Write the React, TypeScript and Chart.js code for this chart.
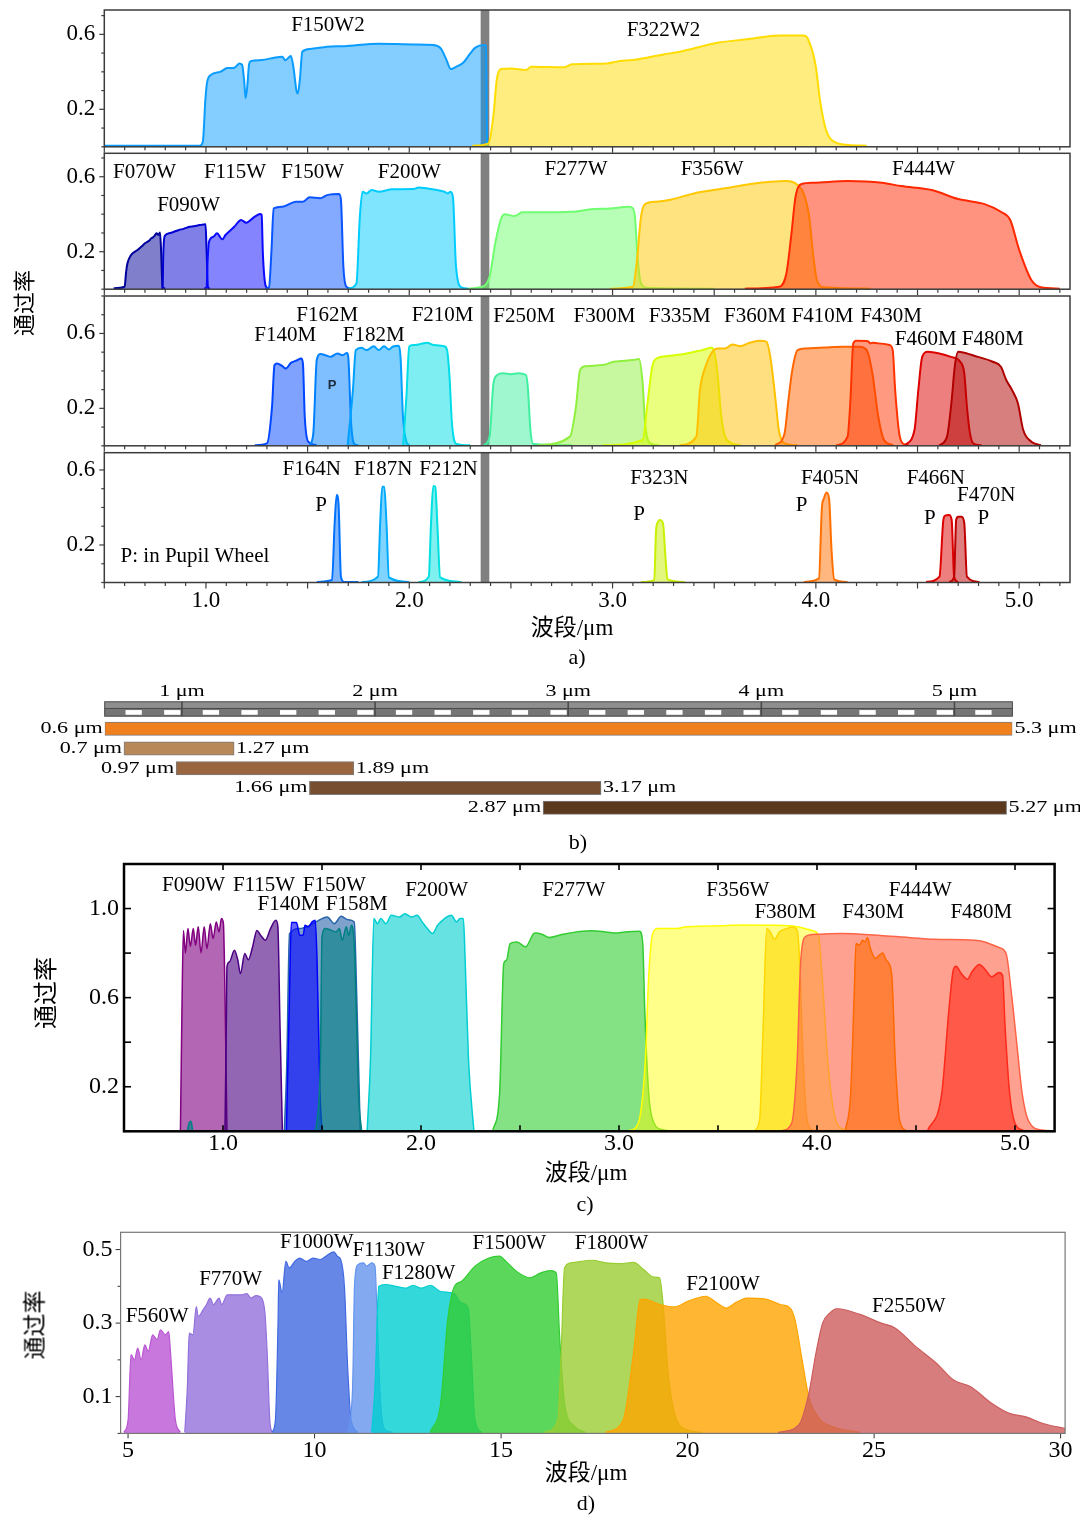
import { useEffect, useRef } from 'react';
import { Chart, registerables } from 'chart.js';

Chart.register(...registerables);

type P = [number, number];

/* ================= a) NIRCam transmission curves ================= */
/* subplot 1 : extra-wide */
const F150W2: P[] = [[0.5,0.005],[0.97,0.006],[0.985,0.03],[0.997,0.25],[1.005,0.34],[1.024,0.383],[1.07,0.4],[1.105,0.42],[1.14,0.422],[1.164,0.445],[1.178,0.437],[1.188,0.35],[1.195,0.26],[1.203,0.32],[1.212,0.44],[1.22,0.457],[1.274,0.463],[1.342,0.477],[1.376,0.48],[1.39,0.462],[1.418,0.484],[1.43,0.427],[1.445,0.3],[1.452,0.285],[1.462,0.36],[1.474,0.507],[1.511,0.522],[1.596,0.534],[1.68,0.537],[1.85,0.55],[2.02,0.546],[2.12,0.543],[2.155,0.525],[2.18,0.472],[2.205,0.415],[2.23,0.427],[2.265,0.448],[2.3,0.498],[2.325,0.529],[2.367,0.543],[2.378,0.54],[2.383,0.02],[2.388,0.005]];
const F322W2: P[] = [[2.31,0.005],[2.39,0.018],[2.415,0.178],[2.43,0.356],[2.45,0.415],[2.5,0.418],[2.574,0.41],[2.6,0.427],[2.76,0.424],[2.8,0.44],[2.97,0.445],[3.03,0.457],[3.1,0.463],[3.25,0.493],[3.33,0.507],[3.516,0.555],[3.67,0.575],[3.82,0.594],[3.94,0.594],[3.96,0.578],[4.0,0.427],[4.02,0.25],[4.05,0.09],[4.1,0.022],[4.16,0.01],[4.25,0.006]];
/* subplot 2 : wide */
const F070W: P[] = [[0.546,0.005],[0.6,0.013],[0.607,0.09],[0.614,0.138],[0.63,0.18],[0.665,0.21],[0.69,0.235],[0.7,0.245],[0.72,0.258],[0.73,0.27],[0.745,0.282],[0.757,0.298],[0.766,0.289],[0.774,0.303],[0.78,0.19],[0.786,0.014],[0.8,0.003]];
const F090W: P[] = [[0.781,0.003],[0.787,0.014],[0.79,0.18],[0.796,0.28],[0.817,0.298],[0.84,0.305],[0.867,0.316],[0.89,0.322],[0.918,0.333],[0.94,0.336],[0.969,0.342],[0.998,0.346],[1.003,0.21],[1.01,0.01],[1.02,0.003]];
const F115W: P[] = [[0.99,0.003],[1.003,0.01],[1.008,0.15],[1.015,0.253],[1.037,0.28],[1.054,0.298],[1.08,0.266],[1.096,0.289],[1.139,0.333],[1.173,0.369],[1.198,0.355],[1.24,0.387],[1.266,0.401],[1.274,0.396],[1.28,0.19],[1.294,0.017],[1.31,0.003]];
const F150W: P[] = [[1.29,0.003],[1.31,0.01],[1.322,0.2],[1.333,0.431],[1.376,0.44],[1.443,0.467],[1.477,0.467],[1.51,0.49],[1.562,0.485],[1.596,0.502],[1.655,0.508],[1.664,0.476],[1.676,0.12],[1.69,0.014],[1.715,0.003]];
const F200W: P[] = [[1.7,0.003],[1.74,0.03],[1.757,0.387],[1.77,0.52],[1.79,0.511],[1.815,0.529],[1.85,0.52],[1.917,0.533],[2.02,0.534],[2.045,0.542],[2.122,0.532],[2.173,0.52],[2.19,0.511],[2.203,0.52],[2.215,0.49],[2.23,0.12],[2.257,0.01],[2.29,0.003]];
const F277W: P[] = [[2.29,0.003],[2.348,0.01],[2.395,0.066],[2.423,0.245],[2.452,0.378],[2.47,0.4],[2.518,0.39],[2.555,0.41],[2.63,0.41],[2.8,0.413],[2.894,0.426],[2.988,0.431],[3.082,0.44],[3.1,0.431],[3.11,0.387],[3.124,0.156],[3.14,0.03],[3.176,0.006],[3.5,0.003]];
const F356W: P[] = [[2.988,0.003],[3.1,0.013],[3.12,0.156],[3.14,0.387],[3.16,0.454],[3.214,0.467],[3.29,0.479],[3.4,0.511],[3.553,0.538],[3.67,0.56],[3.78,0.573],[3.855,0.577],[3.91,0.556],[3.94,0.511],[3.967,0.387],[3.986,0.19],[4.005,0.049],[4.04,0.01],[4.27,0.003]];
const F444W: P[] = [[3.65,0.003],[3.82,0.013],[3.855,0.084],[3.88,0.298],[3.9,0.493],[3.93,0.561],[3.986,0.568],[4.156,0.577],[4.325,0.568],[4.42,0.55],[4.57,0.529],[4.7,0.481],[4.83,0.454],[4.91,0.413],[4.956,0.369],[5.0,0.21],[5.06,0.049],[5.107,0.01],[5.2,0.003]];
/* subplot 3 : medium */
const F140M: P[] = [[1.24,0.003],[1.3,0.013],[1.325,0.209],[1.337,0.43],[1.35,0.44],[1.376,0.425],[1.393,0.413],[1.418,0.443],[1.443,0.454],[1.469,0.466],[1.477,0.44],[1.486,0.155],[1.503,0.022],[1.545,0.003]];
const F162M: P[] = [[1.51,0.003],[1.528,0.066],[1.545,0.458],[1.562,0.49],[1.587,0.484],[1.613,0.475],[1.647,0.493],[1.672,0.484],[1.694,0.496],[1.7,0.475],[1.714,0.12],[1.73,0.01],[1.75,0.003]];
const F182M: P[] = [[1.697,0.003],[1.723,0.3],[1.737,0.511],[1.765,0.523],[1.79,0.511],[1.825,0.532],[1.85,0.511],[1.876,0.532],[1.9,0.514],[1.918,0.529],[1.948,0.534],[1.957,0.475],[1.969,0.155],[1.986,0.022],[2.0,0.003]];
const F210M: P[] = [[1.97,0.003],[1.986,0.262],[2.0,0.529],[2.02,0.538],[2.053,0.543],[2.088,0.55],[2.12,0.538],[2.172,0.532],[2.186,0.511],[2.198,0.369],[2.21,0.12],[2.232,0.01],[2.3,0.003]];
const F250M: P[] = [[2.367,0.003],[2.395,0.049],[2.414,0.333],[2.433,0.378],[2.461,0.387],[2.5,0.382],[2.536,0.387],[2.574,0.378],[2.583,0.316],[2.596,0.084],[2.61,0.01],[2.8,0.003]];
const F300M: P[] = [[2.63,0.003],[2.79,0.049],[2.82,0.209],[2.84,0.404],[2.866,0.425],[2.95,0.431],[3.007,0.449],[3.1,0.458],[3.13,0.463],[3.148,0.333],[3.16,0.12],[3.186,0.013],[3.23,0.003]];
const F335M: P[] = [[2.95,0.003],[3.148,0.031],[3.17,0.209],[3.195,0.422],[3.218,0.467],[3.27,0.479],[3.365,0.493],[3.44,0.511],[3.487,0.523],[3.5,0.502],[3.516,0.387],[3.535,0.155],[3.563,0.031],[3.63,0.003]];
const F360M: P[] = [[3.33,0.003],[3.412,0.049],[3.43,0.298],[3.46,0.431],[3.497,0.511],[3.516,0.52],[3.553,0.52],[3.59,0.541],[3.63,0.532],[3.666,0.547],[3.723,0.561],[3.757,0.556],[3.776,0.475],[3.8,0.262],[3.818,0.084],[3.855,0.01],[3.91,0.003]];
const F410M: P[] = [[3.8,0.003],[3.846,0.066],[3.865,0.244],[3.884,0.404],[3.91,0.511],[3.948,0.52],[4.043,0.525],[4.137,0.529],[4.212,0.529],[4.25,0.511],[4.278,0.387],[4.307,0.155],[4.335,0.031],[4.38,0.003]];
const F430M: P[] = [[4.1,0.003],[4.156,0.049],[4.17,0.244],[4.184,0.547],[4.2,0.561],[4.25,0.56],[4.26,0.555],[4.268,0.547],[4.278,0.55],[4.307,0.547],[4.363,0.538],[4.378,0.511],[4.39,0.298],[4.41,0.066],[4.43,0.01],[4.457,0.003]];
const F460M: P[] = [[4.438,0.003],[4.485,0.084],[4.504,0.298],[4.523,0.475],[4.55,0.502],[4.607,0.493],[4.664,0.475],[4.71,0.449],[4.73,0.387],[4.743,0.209],[4.758,0.066],[4.777,0.01],[4.815,0.003]];
const F480M: P[] = [[4.607,0.003],[4.645,0.049],[4.668,0.244],[4.683,0.422],[4.7,0.502],[4.73,0.497],[4.797,0.475],[4.87,0.449],[4.91,0.422],[4.937,0.35],[4.965,0.298],[4.994,0.226],[5.02,0.084],[5.06,0.022],[5.107,0.003]];
/* subplot 4 : narrow */
const F164N: P[] = [[1.545,0.003],[1.62,0.013],[1.633,0.316],[1.643,0.467],[1.652,0.422],[1.664,0.031],[1.68,0.003],[1.75,0.003]];
const F187N: P[] = [[1.765,0.003],[1.846,0.031],[1.857,0.316],[1.867,0.511],[1.877,0.511],[1.888,0.316],[1.9,0.027],[2.0,0.003]];
const F212N: P[] = [[2.045,0.003],[2.096,0.031],[2.107,0.316],[2.118,0.515],[2.128,0.511],[2.138,0.316],[2.152,0.027],[2.257,0.003]];
const F323N: P[] = [[3.14,0.003],[3.205,0.013],[3.214,0.28],[3.224,0.324],[3.233,0.333],[3.248,0.316],[3.26,0.138],[3.27,0.017],[3.355,0.003]];
const F405N: P[] = [[3.94,0.003],[4.015,0.022],[4.03,0.404],[4.04,0.449],[4.052,0.48],[4.065,0.449],[4.077,0.173],[4.09,0.017],[4.156,0.003]];
const F466N: P[] = [[4.542,0.003],[4.608,0.031],[4.627,0.333],[4.636,0.356],[4.655,0.36],[4.668,0.333],[4.68,0.031],[4.7,0.003]];
const F470N: P[] = [[4.655,0.003],[4.68,0.031],[4.69,0.333],[4.7,0.351],[4.717,0.351],[4.73,0.316],[4.743,0.031],[4.805,0.003]];
/* dichroic gap (grey band) */
const DICHROIC: P[] = [[2.35,0],[2.35,1],[2.395,1],[2.395,0]];

const aXLabels = [1, 2, 3, 4, 5];
const aYLabels = [0.2, 0.6];

/* ================= b) wavelength coverage bars ================= */
const bCats = ['ruler', 'full', 'r1', 'r2', 'r3', 'r4'];
const bStart: (number | null)[] = [null, 0.6, 0.7, 0.97, 1.66, 2.87];
const bEnd: (number | null)[] = [null, 5.3, 1.27, 1.89, 3.17, 5.27];
const RULER: P = [0.6, 5.3];
const RULER_MARKS = [1, 2, 3, 4, 5];

/* ================= c) NIRCam throughput ================= */
const cF090W: P[] = [[0.785,0.002],[0.792,0.5],[0.8,0.902],[0.81,0.8],[0.823,0.91],[0.835,0.83],[0.85,0.91],[0.861,0.835],[0.875,0.918],[0.889,0.8],[0.905,0.918],[0.919,0.82],[0.936,0.932],[0.95,0.865],[0.966,0.94],[0.98,0.895],[0.992,0.955],[1.002,0.933],[1.01,0.618],[1.02,0.002]];
const cF115W: P[] = [[1.01,0.002],[1.017,0.5],[1.02,0.738],[1.032,0.76],[1.058,0.813],[1.075,0.768],[1.088,0.708],[1.11,0.798],[1.128,0.77],[1.15,0.83],[1.171,0.902],[1.19,0.88],[1.214,0.858],[1.24,0.91],[1.267,0.947],[1.277,0.92],[1.288,0.47],[1.3,0.002]];
const cF150W: P[] = [[1.31,0.002],[1.322,0.3],[1.336,0.887],[1.388,0.91],[1.44,0.925],[1.483,0.947],[1.527,0.962],[1.562,0.932],[1.597,0.965],[1.632,0.95],[1.663,0.94],[1.675,0.618],[1.693,0.002]];
const cF140M: P[] = [[1.32,0.002],[1.336,0.618],[1.345,0.937],[1.371,0.937],[1.388,0.88],[1.405,0.88],[1.414,0.925],[1.431,0.918],[1.45,0.94],[1.466,0.948],[1.475,0.768],[1.49,0.17],[1.5,0.002]];
const cF158M: P[] = [[0.82,0.002],[0.83,0.04],[0.838,0.045],[0.848,0.003],[0.86,0.002],[1.46,0.002],[1.475,0.05],[1.492,0.32],[1.5,0.873],[1.518,0.91],[1.545,0.903],[1.571,0.895],[1.588,0.91],[1.602,0.858],[1.623,0.918],[1.635,0.88],[1.649,0.925],[1.657,0.903],[1.666,0.768],[1.684,0.17],[1.7,0.002]];
const cF200W: P[] = [[1.728,0.002],[1.745,0.32],[1.762,0.955],[1.78,0.932],[1.797,0.955],[1.823,0.932],[1.85,0.97],[1.892,0.962],[1.918,0.977],[1.953,0.962],[1.98,0.97],[2.006,0.94],[2.032,0.91],[2.058,0.888],[2.084,0.925],[2.119,0.955],[2.153,0.97],[2.18,0.94],[2.197,0.955],[2.214,0.955],[2.223,0.768],[2.24,0.32],[2.267,0.002]];
const cF277W: P[] = [[2.362,0.002],[2.397,0.17],[2.418,0.753],[2.432,0.768],[2.45,0.843],[2.484,0.85],[2.528,0.828],[2.574,0.89],[2.61,0.885],[2.646,0.87],[2.718,0.885],[2.862,0.9],[2.934,0.895],[2.988,0.89],[3.043,0.896],[3.104,0.898],[3.12,0.843],[3.13,0.543],[3.15,0.17],[3.177,0.036],[3.223,0.006],[3.25,0.002]];
const cF356W: P[] = [[3.05,0.002],[3.097,0.036],[3.133,0.32],[3.15,0.693],[3.17,0.887],[3.196,0.91],[3.295,0.91],[3.33,0.917],[3.4,0.92],[3.51,0.923],[3.62,0.926],[3.765,0.925],[3.909,0.917],[3.98,0.9],[4.008,0.88],[4.026,0.693],[4.054,0.32],[4.09,0.066],[4.143,0.006],[4.17,0.002]];
const cF380M: P[] = [[3.683,0.002],[3.71,0.05],[3.728,0.469],[3.746,0.91],[3.764,0.895],[3.786,0.862],[3.81,0.895],[3.846,0.91],[3.876,0.917],[3.9,0.902],[3.912,0.768],[3.93,0.32],[3.953,0.036],[3.99,0.002]];
const cF444W: P[] = [[3.818,0.002],[3.872,0.036],[3.9,0.32],[3.918,0.768],[3.945,0.876],[4.0,0.885],[4.126,0.888],[4.306,0.88],[4.414,0.873],[4.594,0.862],[4.793,0.858],[4.847,0.85],[4.919,0.825],[4.955,0.798],[4.982,0.618],[5.009,0.394],[5.036,0.17],[5.07,0.043],[5.135,0.006],[5.2,0.002]];
const cF430M: P[] = [[4.143,0.002],[4.17,0.17],[4.188,0.618],[4.197,0.843],[4.215,0.835],[4.23,0.858],[4.242,0.85],[4.255,0.87],[4.27,0.82],[4.296,0.776],[4.314,0.79],[4.332,0.8],[4.35,0.768],[4.377,0.708],[4.395,0.32],[4.417,0.05],[4.45,0.002]];
const cF480M: P[] = [[4.558,0.002],[4.63,0.17],[4.666,0.543],[4.688,0.723],[4.702,0.741],[4.729,0.708],[4.76,0.683],[4.783,0.716],[4.82,0.749],[4.846,0.73],[4.883,0.694],[4.919,0.713],[4.937,0.7],[4.95,0.469],[4.973,0.17],[5.0,0.036],[5.045,0.002]];
const cXLabels = [1, 2, 3, 4, 5];
const cYLabels = [0.2, 0.6, 1.0];

/* ================= d) MIRI throughput ================= */
const F560W: P[] = [[4.89,0.003],[5.0,0.036],[5.08,0.214],[5.17,0.2],[5.26,0.232],[5.35,0.2],[5.45,0.241],[5.54,0.223],[5.66,0.268],[5.78,0.255],[5.87,0.282],[6.0,0.268],[6.09,0.277],[6.14,0.218],[6.27,0.036],[6.4,0.003]];
const F770W: P[] = [[6.52,0.003],[6.59,0.127],[6.64,0.273],[6.74,0.268],[6.83,0.345],[6.88,0.318],[7.01,0.336],[7.1,0.35],[7.2,0.368],[7.29,0.35],[7.44,0.368],[7.51,0.35],[7.66,0.377],[7.84,0.377],[8.03,0.377],[8.18,0.38],[8.3,0.368],[8.43,0.375],[8.58,0.368],[8.67,0.327],[8.73,0.218],[8.8,0.036],[8.86,0.003]];
const F1000W: P[] = [[8.86,0.003],[8.95,0.036],[9.02,0.3],[9.04,0.418],[9.13,0.382],[9.23,0.468],[9.32,0.45],[9.47,0.468],[9.6,0.477],[9.78,0.468],[9.96,0.477],[10.15,0.473],[10.33,0.484],[10.52,0.494],[10.61,0.482],[10.7,0.473],[10.8,0.4],[10.89,0.173],[10.98,0.036],[11.16,0.003]];
const F1130W: P[] = [[10.89,0.003],[11.02,0.127],[11.07,0.4],[11.16,0.459],[11.31,0.464],[11.4,0.455],[11.53,0.464],[11.62,0.455],[11.68,0.309],[11.77,0.082],[11.9,0.009],[12.09,0.003]];
const F1280W: P[] = [[11.53,0.003],[11.62,0.127],[11.72,0.4],[11.9,0.405],[12.18,0.4],[12.45,0.395],[12.64,0.403],[12.86,0.395],[13.1,0.403],[13.38,0.386],[13.75,0.38],[13.93,0.355],[14.12,0.34],[14.2,0.218],[14.3,0.036],[14.48,0.003]];
const F1500W: P[] = [[13.1,0.003],[13.38,0.082],[13.57,0.31],[13.75,0.4],[13.93,0.413],[14.3,0.455],[14.67,0.477],[14.95,0.482],[15.13,0.468],[15.41,0.441],[15.78,0.423],[16.05,0.436],[16.33,0.443],[16.48,0.436],[16.57,0.264],[16.7,0.082],[16.98,0.018],[17.25,0.003]];
const F1800W: P[] = [[16.15,0.003],[16.52,0.036],[16.61,0.218],[16.7,0.45],[16.88,0.464],[17.44,0.471],[17.8,0.464],[18.18,0.462],[18.55,0.465],[18.82,0.446],[19.1,0.425],[19.25,0.423],[19.34,0.355],[19.47,0.173],[19.65,0.055],[20.02,0.009],[20.39,0.003]];
const F2100W: P[] = [[17.8,0.003],[18.27,0.036],[18.55,0.218],[18.73,0.364],[18.82,0.365],[19.28,0.35],[19.65,0.344],[20.02,0.36],[20.49,0.373],[20.76,0.357],[21.04,0.341],[21.31,0.357],[21.59,0.368],[22.05,0.366],[22.51,0.35],[22.75,0.341],[22.88,0.309],[23.07,0.2],[23.25,0.1],[23.53,0.041],[23.9,0.018],[24.63,0.003]];
const F2550W: P[] = [[22.42,0.003],[22.98,0.023],[23.25,0.109],[23.44,0.218],[23.62,0.3],[23.81,0.327],[23.99,0.339],[24.27,0.335],[24.64,0.323],[25.19,0.3],[25.56,0.287],[26.12,0.236],[26.67,0.191],[27.13,0.145],[27.59,0.127],[28.15,0.082],[28.61,0.055],[29.07,0.045],[29.53,0.027],[30.1,0.014],[30.2,0.012]];
const dXLabels = [5, 10, 15, 20, 25, 30];
const dYLabels = [0.1, 0.3, 0.5];

/* ================= annotations (data-space anchors) ================= */
type Ann = { t: string; x: number; y: number; align?: CanvasTextAlign; small?: boolean };
const aAnn1: Ann[] = [{ t: 'F150W2', x: 1.6, y: 0.65 }, { t: 'F322W2', x: 3.25, y: 0.623 }];
const aAnn2: Ann[] = [
  { t: 'F070W', x: 0.698, y: 0.621 }, { t: 'F090W', x: 0.915, y: 0.444 }, { t: 'F115W', x: 1.143, y: 0.621 },
  { t: 'F150W', x: 1.525, y: 0.621 }, { t: 'F200W', x: 2.0, y: 0.621 }, { t: 'F277W', x: 2.82, y: 0.636 },
  { t: 'F356W', x: 3.49, y: 0.636 }, { t: 'F444W', x: 4.53, y: 0.636 },
];
const aAnn3: Ann[] = [
  { t: 'F140M', x: 1.39, y: 0.591 }, { t: 'F162M', x: 1.596, y: 0.698 }, { t: 'F182M', x: 1.825, y: 0.591 },
  { t: 'F210M', x: 2.164, y: 0.698 }, { t: 'F250M', x: 2.565, y: 0.689 }, { t: 'F300M', x: 2.96, y: 0.689 },
  { t: 'F335M', x: 3.33, y: 0.689 }, { t: 'F360M', x: 3.7, y: 0.689 }, { t: 'F410M', x: 4.033, y: 0.689 },
  { t: 'F430M', x: 4.37, y: 0.689 }, { t: 'F460M', x: 4.54, y: 0.568 }, { t: 'F480M', x: 4.87, y: 0.568 },
  { t: 'P', x: 1.62, y: 0.32, small: true },
];
const aAnn4: Ann[] = [
  { t: 'F164N', x: 1.52, y: 0.6 }, { t: 'F187N', x: 1.872, y: 0.6 }, { t: 'F212N', x: 2.193, y: 0.6 },
  { t: 'F323N', x: 3.23, y: 0.556 }, { t: 'F405N', x: 4.07, y: 0.556 }, { t: 'F466N', x: 4.59, y: 0.556 },
  { t: 'F470N', x: 4.838, y: 0.463 },
  { t: 'P', x: 1.566, y: 0.413 }, { t: 'P', x: 3.13, y: 0.365 }, { t: 'P', x: 3.93, y: 0.413 },
  { t: 'P', x: 4.56, y: 0.339 }, { t: 'P', x: 4.824, y: 0.339 },
  { t: 'P: in Pupil Wheel', x: 0.58, y: 0.141, align: 'left' },
];
const cAnn: Ann[] = [
  { t: 'F090W', x: 0.851, y: 1.105 }, { t: 'F115W', x: 1.207, y: 1.105 }, { t: 'F150W', x: 1.562, y: 1.105 },
  { t: 'F140M', x: 1.331, y: 1.018 }, { t: 'F158M', x: 1.675, y: 1.018 },
  { t: 'F200W', x: 2.079, y: 1.082 }, { t: 'F277W', x: 2.772, y: 1.082 }, { t: 'F356W', x: 3.6, y: 1.082 },
  { t: 'F444W', x: 4.522, y: 1.082 }, { t: 'F380M', x: 3.84, y: 0.982 }, { t: 'F430M', x: 4.284, y: 0.982 },
  { t: 'F480M', x: 4.83, y: 0.982 },
];
const dAnn: Ann[] = [
  { t: 'F560W', x: 5.78, y: 0.318 }, { t: 'F770W', x: 7.75, y: 0.42 }, { t: 'F1000W', x: 10.06, y: 0.518 },
  { t: 'F1130W', x: 11.99, y: 0.498 }, { t: 'F1280W', x: 12.79, y: 0.435 }, { t: 'F1500W', x: 15.22, y: 0.517 },
  { t: 'F1800W', x: 17.96, y: 0.517 }, { t: 'F2100W', x: 20.95, y: 0.405 }, { t: 'F2550W', x: 25.93, y: 0.344 },
];

/* ================= helpers ================= */
const SERIF = '"Liberation Serif", "Noto Sans CJK SC", serif';

function rgba(hex: string, a: number) {
  const n = parseInt(hex.slice(1), 16);
  return `rgba(${(n >> 16) & 255},${(n >> 8) & 255},${n & 255},${a})`;
}

function curve(data: P[], color: string, alpha: number, width: number) {
  return {
    data: data.map(([x, y]) => ({ x, y })),
    borderColor: color,
    backgroundColor: rgba(color, alpha),
    borderWidth: width,
    borderJoinStyle: 'round',
    fill: 'origin',
    pointRadius: 0,
    pointHoverRadius: 0,
    cubicInterpolationMode: 'monotone',
  };
}

function band(data: P[]) {
  return {
    data: data.map(([x, y]) => ({ x, y })),
    borderWidth: 0,
    borderColor: 'rgba(0,0,0,0)',
    backgroundColor: '#808080',
    fill: 'origin',
    pointRadius: 0,
    tension: 0,
  };
}

function isMult(v: number, step: number, off: number) {
  const k = (v - off) / step;
  return Math.abs(k - Math.round(k)) < 1e-6;
}

function pick(v: number, list: number[], dec: number) {
  return list.some((l) => Math.abs(l - v) < 1e-6) ? v.toFixed(dec) : '';
}

function noPad(s: any) {
  s.paddingTop = 0;
  s.paddingBottom = 0;
  s.paddingLeft = 0;
  s.paddingRight = 0;
}

type TickSpec = {
  axis: 'x' | 'y'; side: 'left' | 'right' | 'top' | 'bottom'; inward: boolean;
  step: number; majorStep: number; majorOff: number; minorLen: number; majorLen: number;
};

function decor(frameColor: string, frameWidth: number, tickColor: string, tickWidth: number, specs: TickSpec[]) {
  return {
    id: 'decor',
    afterDatasetsDraw(chart: any) {
      const { ctx, chartArea: a, scales } = chart;
      ctx.save();
      ctx.strokeStyle = tickColor;
      ctx.lineWidth = tickWidth;
      for (const s of specs) {
        const sc = scales[s.axis];
        for (const tk of sc.ticks) {
          const v = tk.value;
          if (v < sc.min - 1e-9 || v > sc.max + 1e-9) continue;
          if (!isMult(v, s.step, 0)) continue;
          const len = isMult(v, s.majorStep, s.majorOff) ? s.majorLen : s.minorLen;
          const p = sc.getPixelForValue(v);
          ctx.beginPath();
          if (s.side === 'bottom') { ctx.moveTo(p, a.bottom); ctx.lineTo(p, a.bottom + (s.inward ? -len : len)); }
          else if (s.side === 'top') { ctx.moveTo(p, a.top); ctx.lineTo(p, a.top + (s.inward ? len : -len)); }
          else if (s.side === 'left') { ctx.moveTo(a.left, p); ctx.lineTo(a.left + (s.inward ? len : -len), p); }
          else { ctx.moveTo(a.right, p); ctx.lineTo(a.right + (s.inward ? -len : len), p); }
          ctx.stroke();
        }
      }
      ctx.strokeStyle = frameColor;
      ctx.lineWidth = frameWidth;
      ctx.strokeRect(a.left, a.top, a.right - a.left, a.bottom - a.top);
      ctx.restore();
    },
  };
}

function texts(items: Ann[], font: string) {
  return {
    id: 'texts',
    afterDraw(chart: any) {
      const { ctx, scales } = chart;
      ctx.save();
      ctx.textBaseline = 'middle';
      for (const it of items) {
        ctx.font = it.small ? 'bold 13px "Liberation Sans"' : font;
        ctx.fillStyle = it.small ? '#1d2a3a' : '#000';
        ctx.textAlign = it.align ?? 'center';
        ctx.fillText(it.t, scales.x.getPixelForValue(it.x), scales.y.getPixelForValue(it.y));
      }
      ctx.restore();
    },
  };
}

type CurveOpts = {
  sets: any[]; xmin: number; xmax: number; xstep: number; xLabels: number[]; xDec: number;
  ymax: number; ystep: number; yLabels: number[]; yDec: number;
  padTop: number; padRight: number; yw: number; xh: number; showX: boolean;
  xPad: number; yPad: number; tickSize: number; specs: TickSpec[];
  frame: [string, number]; tick: [string, number]; ann: Ann[]; annFont: string;
};

function curveCfg(o: CurveOpts) {
  const tickFont = { family: SERIF, size: o.tickSize, lineHeight: 1 };
  return {
    type: 'line',
    data: { datasets: o.sets.map((d, i) => ({ ...d, order: -i })) },
    options: {
      animation: false,
      responsive: false,
      devicePixelRatio: 1,
      events: [],
      layout: { padding: { left: 0, right: o.padRight, top: o.padTop, bottom: 0 }, autoPadding: false },
      plugins: { legend: { display: false }, tooltip: { enabled: false } },
      scales: {
        x: {
          type: 'linear', min: o.xmin, max: o.xmax,
          grid: { display: false, drawTicks: false }, border: { display: false },
          ticks: {
            display: o.showX, stepSize: o.xstep, autoSkip: false, includeBounds: false, maxRotation: 0,
            padding: o.xPad, color: '#000', font: tickFont,
            callback: (v: number) => pick(v, o.xLabels, o.xDec),
          },
          afterFit: (s: any) => { s.height = o.xh; noPad(s); },
        },
        y: {
          type: 'linear', min: 0, max: o.ymax,
          grid: { display: false, drawTicks: false }, border: { display: false },
          ticks: {
            stepSize: o.ystep, autoSkip: false, includeBounds: false,
            padding: o.yPad, color: '#000', font: tickFont,
            callback: (v: number) => pick(v, o.yLabels, o.yDec),
          },
          afterFit: (s: any) => { s.width = o.yw; noPad(s); },
        },
      },
    },
    plugins: [decor(o.frame[0], o.frame[1], o.tick[0], o.tick[1], o.specs), texts(o.ann, o.annFont)],
  };
}

const aSpecs: TickSpec[] = [
  { axis: 'x', side: 'bottom', inward: false, step: 0.1, majorStep: 0.5, majorOff: 0, minorLen: 3.5, majorLen: 6 },
  { axis: 'y', side: 'left', inward: false, step: 0.1, majorStep: 0.4, majorOff: 0.2, minorLen: 3, majorLen: 5 },
];

function nircam(sets: any[], ymax: number, padTop: number, xh: number, showX: boolean, ann: Ann[]) {
  return curveCfg({
    sets, xmin: 0.5, xmax: 5.25, xstep: 0.1, xLabels: aXLabels, xDec: 1,
    ymax, ystep: 0.1, yLabels: aYLabels, yDec: 1,
    padTop, padRight: 10, yw: 104.3, xh, showX, xPad: 7, yPad: 9, tickSize: 23,
    specs: aSpecs, frame: ['#3c3c3c', 1.5], tick: ['#3c3c3c', 1.2], ann, annFont: `21px ${SERIF}`,
  });
}

const A = 0.5, W = 2;
const sub1 = () => nircam([band(DICHROIC), curve(F150W2, '#0a9cff', A, W), curve(F322W2, '#ffdd00', A, W)], 0.73, 10, 7.2, false, aAnn1);
const sub2 = () => nircam([
  band(DICHROIC), curve(F070W, '#00009a', A, W), curve(F090W, '#0000d0', A, W), curve(F115W, '#0a0aff', A, W),
  curve(F150W, '#0a55ff', A, W), curve(F200W, '#00ccff', A, W), curve(F277W, '#70ff70', A, W),
  curve(F356W, '#ffc800', A, W), curve(F444W, '#ff2800', A, W),
], 0.725, 7.3, 7.8, false, aAnn2);
const sub3 = () => nircam([
  band(DICHROIC), curve(F140M, '#0045ff', A, W), curve(F162M, '#0080ff', A, W), curve(F182M, '#00a0ff', A, W),
  curve(F210M, '#00dde8', A, W), curve(F250M, '#40f0a0', A, W), curve(F300M, '#90f040', A, W),
  curve(F335M, '#d8ff00', A, W), curve(F360M, '#ffc000', A, W), curve(F410M, '#ff6600', A, W),
  curve(F430M, '#ff3300', A, W), curve(F460M, '#dd0000', A, W), curve(F480M, '#b00000', A, W),
], 0.8, 6, 7.2, false, aAnn3);
const sub4 = () => nircam([
  band(DICHROIC), curve(F164N, '#0070ff', A, W), curve(F187N, '#00aaff', A, W), curve(F212N, '#00e0e0', A, W),
  curve(F323N, '#c8f000', A, W), curve(F405N, '#ff7000', A, W), curve(F466N, '#dd0000', A, W),
  curve(F470N, '#c00000', A, W),
], 0.692, 6.7, 38.5, true, aAnn4);

const C = 0.6, CW = 1.5;
const panelC = () => curveCfg({
  sets: [
    curve(cF090W, '#800080', C, CW), curve(cF115W, '#4b0082', C, CW), curve(cF150W, '#2864aa', C, CW),
    curve(cF140M, '#0000ff', C, CW), curve(cF158M, '#008080', C, CW), curve(cF200W, '#00ced1', C, CW),
    curve(cF277W, '#32cd32', C, CW), curve(cF356W, '#ffff00', 0.46, CW), curve(cF380M, '#ffd700', C, CW),
    curve(cF444W, '#ff6347', C, CW), curve(cF430M, '#ff6a00', C, CW), curve(cF480M, '#ff2a1a', C, CW),
  ],
  xmin: 0.5, xmax: 5.2, xstep: 0.5, xLabels: cXLabels, xDec: 1,
  ymax: 1.2, ystep: 0.2, yLabels: cYLabels, yDec: 1,
  padTop: 14, padRight: 25.4, yw: 124, xh: 28.7, showX: true, xPad: 0, yPad: 5, tickSize: 24,
  specs: [
    { axis: 'x', side: 'bottom', inward: true, step: 0.5, majorStep: 0.5, majorOff: 0, minorLen: 6, majorLen: 6 },
    { axis: 'x', side: 'top', inward: true, step: 0.5, majorStep: 0.5, majorOff: 0, minorLen: 6, majorLen: 6 },
    { axis: 'y', side: 'left', inward: true, step: 0.2, majorStep: 0.2, majorOff: 0, minorLen: 7, majorLen: 7 },
    { axis: 'y', side: 'right', inward: true, step: 0.2, majorStep: 0.2, majorOff: 0, minorLen: 7, majorLen: 7 },
  ],
  frame: ['#000', 2.5], tick: ['#000', 1.6], ann: cAnn, annFont: `21px ${SERIF}`,
});

const D = 0.8, DW = 1.2;
const panelD = () => curveCfg({
  sets: [
    curve(F560W, '#ba55d3', D, DW), curve(F770W, '#9370db', D, DW), curve(F1000W, '#4169e1', D, DW),
    curve(F1130W, '#6495ed', D, DW), curve(F1280W, '#00ced1', D, DW), curve(F1500W, '#32cd32', D, DW),
    curve(F1800W, '#9acd32', D, DW), curve(F2100W, '#ffa500', D, DW), curve(F2550W, '#cd5c5c', D, DW),
  ],
  xmin: 4.8, xmax: 30.12, xstep: 5, xLabels: dXLabels, xDec: 0,
  ymax: 0.547, ystep: 0.1, yLabels: dYLabels, yDec: 1,
  padTop: 10.3, padRight: 14.9, yw: 120.6, xh: 48.6, showX: true, xPad: 5, yPad: 8, tickSize: 24,
  specs: [
    { axis: 'x', side: 'bottom', inward: false, step: 5, majorStep: 5, majorOff: 0, minorLen: 5, majorLen: 5 },
    { axis: 'y', side: 'left', inward: false, step: 0.1, majorStep: 0.2, majorOff: 0.1, minorLen: 3, majorLen: 5 },
  ],
  frame: ['#777', 1.2], tick: ['#333', 1], ann: dAnn, annFont: `21px ${SERIF}`,
});

/* ---------- panel b ---------- */
function stretched(ctx: any, text: string, x: number, y: number, align: CanvasTextAlign, sx: number) {
  ctx.save();
  ctx.translate(x, y);
  ctx.scale(sx, 1);
  ctx.textAlign = align;
  ctx.fillText(text, 0, 0);
  ctx.restore();
}

const bPlugin = {
  id: 'panelB',
  afterDatasetsDraw(chart: any) {
    const { ctx, scales } = chart;
    const xs = scales.x, ys = scales.y;
    const yc = ys.getPixelForValue(0);
    const h = 14.4;
    const t = yc - h / 2, b = yc + h / 2, m = yc - 0.5;
    const x0 = xs.getPixelForValue(RULER[0]), x1 = xs.getPixelForValue(RULER[1]);
    ctx.save();
    ctx.fillStyle = '#8e8e8e';
    ctx.fillRect(x0, t, x1 - x0, h);
    ctx.fillStyle = '#767676';
    ctx.fillRect(x0, m, x1 - x0, b - m);
    ctx.fillStyle = '#ffffff';
    for (let k = Math.round(RULER[0] * 10) + 1; k < Math.round(RULER[1] * 10); k += 2) {
      const pa = xs.getPixelForValue(k / 10), pc = xs.getPixelForValue((k + 1) / 10);
      ctx.fillRect(pa + 1.5, m + 1.6, pc - pa - 3, b - m - 3);
    }
    ctx.strokeStyle = '#4a4a4a';
    ctx.lineWidth = 1;
    ctx.beginPath(); ctx.moveTo(x0, m); ctx.lineTo(x1, m); ctx.stroke();
    ctx.lineWidth = 1.6;
    for (const u of RULER_MARKS) {
      const p = xs.getPixelForValue(u);
      ctx.beginPath(); ctx.moveTo(p, t); ctx.lineTo(p, b); ctx.stroke();
    }
    ctx.lineWidth = 1;
    ctx.strokeRect(x0, t, x1 - x0, h);
    ctx.fillStyle = '#000';
    ctx.font = '17px "Liberation Serif"';
    ctx.textBaseline = 'middle';
    for (const u of RULER_MARKS) stretched(ctx, `${u} μm`, xs.getPixelForValue(u), t - 10, 'center', 1.3);
    const meta = chart.getDatasetMeta(0);
    meta.data.forEach((el: any, i: number) => {
      if (bStart[i] == null) return;
      const p = el.getProps(['x', 'base', 'y'], true);
      const l = Math.min(p.x, p.base), r = Math.max(p.x, p.base);
      stretched(ctx, `${bStart[i]} μm`, l - 2, p.y, 'right', 1.3);
      stretched(ctx, `${bEnd[i]} μm`, r + 2, p.y, 'left', 1.3);
    });
    ctx.restore();
  },
};

const panelB = () => ({
  type: 'bar',
  data: {
    labels: bCats,
    datasets: [{
      data: bCats.map((_, i) => (bStart[i] == null ? null : [bStart[i], bEnd[i]])),
      backgroundColor: ['rgba(0,0,0,0)', '#f0801e', '#b88858', '#996640', '#774f30', '#5b391d'],
      borderColor: 'rgba(110,110,110,0.9)',
      borderWidth: 1,
      borderSkipped: false,
      barThickness: 13.3,
    }],
  },
  options: {
    indexAxis: 'y',
    animation: false,
    responsive: false,
    devicePixelRatio: 1,
    events: [],
    layout: { padding: { left: 104.7, right: 67.6, top: 19.1, bottom: 12.4 }, autoPadding: false },
    plugins: { legend: { display: false }, tooltip: { enabled: false } },
    scales: {
      x: { type: 'linear', min: RULER[0], max: RULER[1], display: false },
      y: { type: 'category', display: false },
    },
  },
  plugins: [bPlugin],
});

/* ================= components ================= */
function ChartBox({ top, height, cfg }: { top: number; height: number; cfg: () => any }) {
  const ref = useRef<HTMLCanvasElement | null>(null);
  useEffect(() => {
    if (!ref.current) return;
    const ch = new Chart(ref.current, cfg());
    return () => ch.destroy();
  }, []);
  return (
    <canvas ref={ref} width={1080} height={height}
      style={{ position: 'absolute', left: 0, top, width: 1080, height, display: 'block' }} />
  );
}

function Txt({ x, y, size, rot, children }: { x: number; y: number; size: number; rot?: boolean; children: any }) {
  return (
    <div style={{
      position: 'absolute', left: x, top: y,
      transform: `translate(-50%, -50%)${rot ? ' rotate(-90deg)' : ''}`,
      fontFamily: SERIF, fontSize: size, lineHeight: 1, whiteSpace: 'nowrap', color: '#000',
    }}>{children}</div>
  );
}

export default function App() {
  return (
    <div style={{ position: 'absolute', left: 0, top: 0, width: 1080, height: 1517, background: '#fff', overflow: 'hidden' }}>
      <ChartBox top={0} height={154} cfg={sub1} />
      <ChartBox top={146} height={151} cfg={sub2} />
      <ChartBox top={290} height={163} cfg={sub3} />
      <ChartBox top={446} height={175} cfg={sub4} />
      <ChartBox top={680} height={150} cfg={panelB} />
      <ChartBox top={850} height={310} cfg={panelC} />
      <ChartBox top={1222} height={260} cfg={panelD} />
      <Txt x={25} y={303} size={22} rot>通过率</Txt>
      <Txt x={572} y={627} size={23}>波段/μm</Txt>
      <Txt x={577} y={657} size={22}>a)</Txt>
      <Txt x={578} y={842} size={22}>b)</Txt>
      <Txt x={46} y={993} size={24} rot>通过率</Txt>
      <Txt x={586} y={1172} size={23}>波段/μm</Txt>
      <Txt x={585} y={1204} size={22}>c)</Txt>
      <Txt x={35} y={1325} size={23} rot>通过率</Txt>
      <Txt x={586} y={1472} size={23}>波段/μm</Txt>
      <Txt x={586} y={1503} size={22}>d)</Txt>
    </div>
  );
}
